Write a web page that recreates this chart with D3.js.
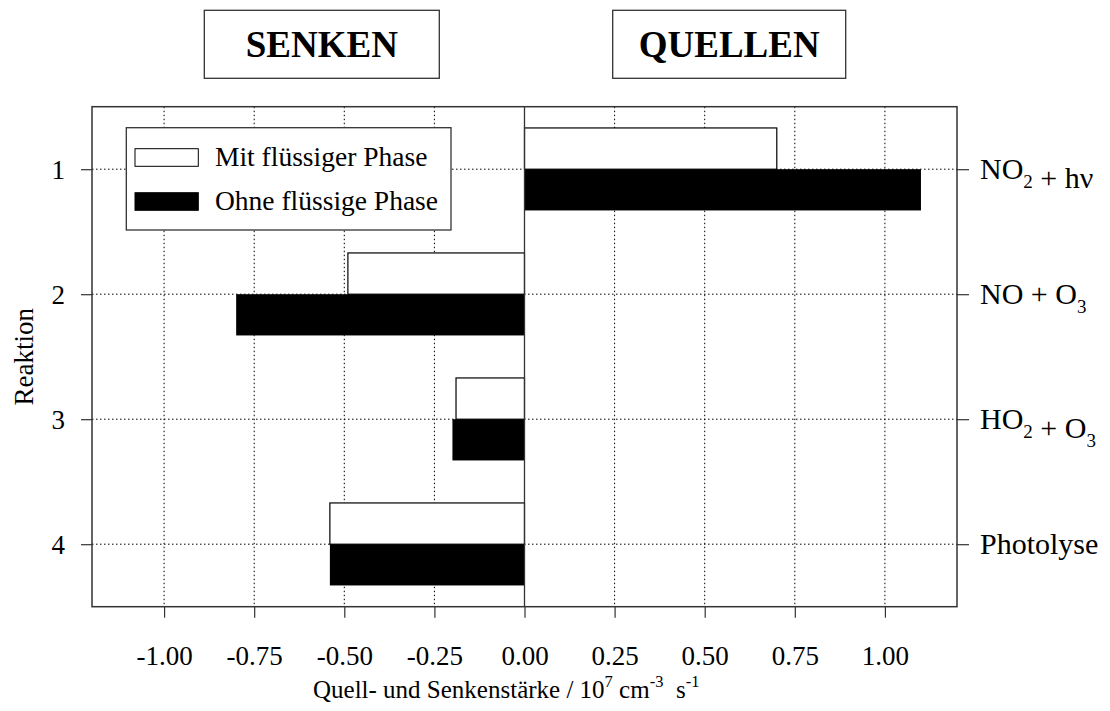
<!DOCTYPE html>
<html>
<head>
<meta charset="utf-8">
<script src="https://cdn.jsdelivr.net/npm/d3@7"></script>
<style>
  html, body { margin: 0; padding: 0; background: #fff; }
  svg { display: block; font-family: "Liberation Serif", "Times New Roman", serif; }
</style>
</head>
<body>
<svg id="chart" width="1110" height="711"></svg>
<script>
// ---------- data ----------
const categories = [1, 2, 3, 4];
const reactionLabels = ["NO_2 + hν", "NO + O_3", "HO_2 + O_3", "Photolyse"];
const withLiquid = [0.70, -0.49, -0.19, -0.54];     // Mit flüssiger Phase
const withoutLiquid = [1.10, -0.80, -0.20, -0.54];  // Ohne flüssige Phase
const xTicks = [-1.00, -0.75, -0.50, -0.25, 0.00, 0.25, 0.50, 0.75, 1.00];
const seriesNames = ["Mit flüssiger Phase", "Ohne flüssige Phase"];
const panelTitles = ["SENKEN", "QUELLEN"];
const xTitle = "Quell- und Senkenstärke / 10";
const yTitle = "Reaktion";

// ---------- layout ----------
const L = 92, R = 957, T = 106.7, B = 606.7;
const barH = 0.33;
const svg = d3.select("#chart");
const x = d3.scaleLinear().domain([-1.2, 1.2]).range([L, R]);
const y = d3.scaleLinear().domain([0.5, 4.5]).range([T, B]);
const frameColor = "#333";

// title boxes
const titleBoxes = [{x: 204.3, w: 235}, {x: 612.7, w: 233}];
panelTitles.forEach((t, i) => {
  const b = titleBoxes[i];
  svg.append("rect").attr("x", b.x).attr("y", 10.3).attr("width", b.w).attr("height", 68)
    .attr("fill", "#fff").attr("stroke", frameColor).attr("stroke-width", 1.3);
  svg.append("text").attr("x", b.x + b.w / 2).attr("y", 56.7).attr("text-anchor", "middle")
    .attr("font-size", 37).attr("font-weight", "bold").text(t);
});

// grid
const grid = svg.append("g");
grid.selectAll("line.vg").data(xTicks.filter(d => d !== 0)).join("line")
  .attr("x1", d => x(d)).attr("x2", d => x(d)).attr("y1", T).attr("y2", B)
  .attr("stroke", "#000").attr("stroke-width", 1).attr("stroke-dasharray", "1.5,2.5");
grid.selectAll("line.hg").data(categories).join("line")
  .attr("x1", L).attr("x2", R).attr("y1", d => y(d)).attr("y2", d => y(d))
  .attr("stroke", "#000").attr("stroke-width", 1).attr("stroke-dasharray", "1.5,2.5");

// bars
const bars = svg.append("g");
bars.selectAll("rect.w").data(categories).join("rect")
  .attr("x", (c, i) => x(Math.min(0, withLiquid[i])))
  .attr("width", (c, i) => Math.abs(x(withLiquid[i]) - x(0)))
  .attr("y", c => y(c - barH)).attr("height", c => y(c) - y(c - barH))
  .attr("fill", "#fff").attr("stroke", "#000").attr("stroke-width", 1.2);
bars.selectAll("rect.b").data(categories).join("rect")
  .attr("x", (c, i) => x(Math.min(0, withoutLiquid[i])))
  .attr("width", (c, i) => Math.abs(x(withoutLiquid[i]) - x(0)))
  .attr("y", c => y(c)).attr("height", c => y(c + barH) - y(c))
  .attr("fill", "#000");

// zero line
svg.append("line").attr("x1", x(0)).attr("x2", x(0)).attr("y1", T).attr("y2", B)
  .attr("stroke", frameColor).attr("stroke-width", 1.3);

// frame
svg.append("rect").attr("x", L).attr("y", T).attr("width", R - L).attr("height", B - T)
  .attr("fill", "none").attr("stroke", frameColor).attr("stroke-width", 1.5);

// x axis
const xAxis = svg.append("g").attr("transform", `translate(0,${B})`)
  .call(d3.axisBottom(x).tickValues(xTicks).tickSize(11).tickFormat(d => d.toFixed(2)));
xAxis.select(".domain").remove();
xAxis.selectAll(".tick line").attr("stroke", frameColor).attr("stroke-width", 1.2);
xAxis.selectAll(".tick text").attr("y", 58.3).attr("dy", 0)
  .attr("font-size", 27).attr("font-family", "Liberation Serif").attr("fill", "#000");

// left axis
const yAxis = svg.append("g").attr("transform", `translate(${L},0)`)
  .call(d3.axisLeft(y).tickValues(categories).tickSize(11).tickFormat(d3.format("d")));
yAxis.select(".domain").remove();
yAxis.selectAll(".tick line").attr("stroke", frameColor).attr("stroke-width", 1.2);
yAxis.selectAll(".tick text").attr("x", -27).attr("dy", 9)
  .attr("font-size", 27).attr("font-family", "Liberation Serif").attr("fill", "#000");

// right axis
const yAxisR = svg.append("g").attr("transform", `translate(${R},0)`)
  .call(d3.axisRight(y).tickValues(categories).tickSize(12).tickFormat(""));
yAxisR.select(".domain").remove();
yAxisR.selectAll(".tick line").attr("stroke", frameColor).attr("stroke-width", 1.2);
categories.forEach((c, i) => {
  const t = svg.append("text").attr("x", R + 23).attr("y", y(c) + 10).attr("font-size", 30);
  reactionLabels[i].split(/(_\d)/).filter(s => s.length).forEach(seg => {
    if (seg.startsWith("_")) {
      t.append("tspan").attr("font-size", 19).attr("dy", 9).text(seg.slice(1));
      t.append("tspan").attr("dy", -9).text("");
    } else {
      t.append("tspan").text(seg);
    }
  });
});

// x title with superscripts
const xt = svg.append("text").attr("x", 313).attr("y", 698).attr("font-size", 25);
xt.append("tspan").text(xTitle);
xt.append("tspan").attr("font-size", 16.5).attr("dy", -11).text("7");
xt.append("tspan").attr("dy", 11).text(" cm");
xt.append("tspan").attr("font-size", 16.5).attr("dy", -11).text("-3");
xt.append("tspan").attr("dy", 11).text("\u00a0 s");
xt.append("tspan").attr("font-size", 16.5).attr("dy", -11).text("-1");

// y title
svg.append("text").attr("transform", `translate(33,${(T + B) / 2}) rotate(-90)`)
  .attr("text-anchor", "middle").attr("font-size", 27).text(yTitle);

// legend
const lg = svg.append("g");
lg.append("rect").attr("x", 126.3).attr("y", 127.7).attr("width", 324.7).attr("height", 102.3)
  .attr("fill", "#fff").attr("stroke", frameColor).attr("stroke-width", 1.3);
const legendRows = [
  {name: seriesNames[0], fill: "#fff", sy: 148.7, ty: 166.3},
  {name: seriesNames[1], fill: "#000", sy: 192.7, ty: 210.3}
];
legendRows.forEach(r => {
  lg.append("rect").attr("x", 135).attr("y", r.sy).attr("width", 63.3).attr("height", 17.6)
    .attr("fill", r.fill).attr("stroke", "#000").attr("stroke-width", 1);
  lg.append("text").attr("x", 215).attr("y", r.ty).attr("font-size", 27.5).text(r.name);
});
</script>
</body>
</html>
